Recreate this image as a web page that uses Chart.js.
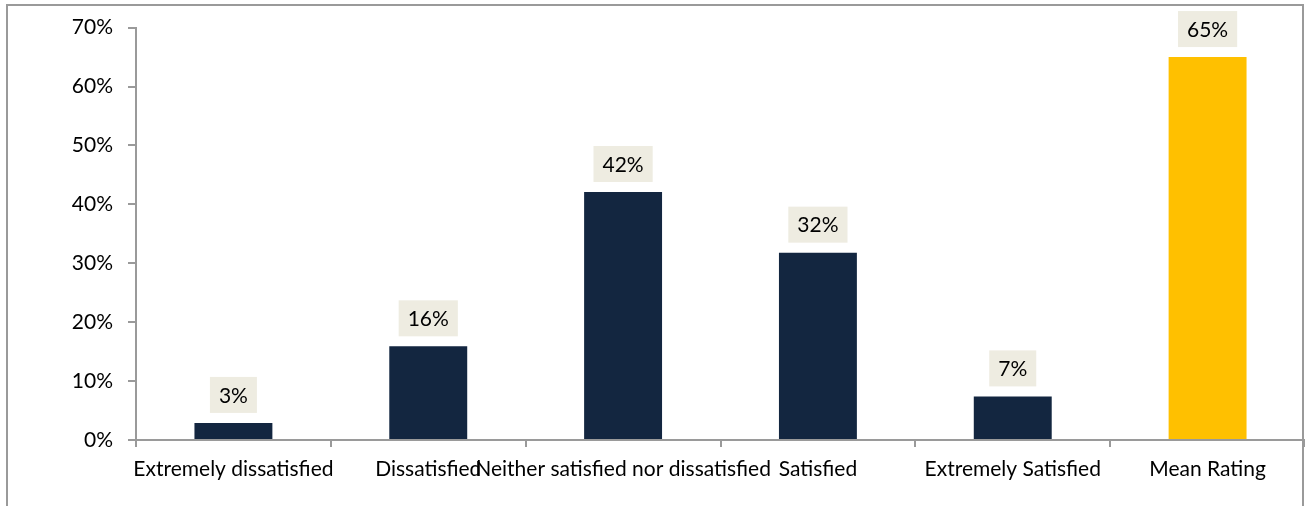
<!DOCTYPE html>
<html>
<head>
<meta charset="utf-8">
<script src="https://cdn.jsdelivr.net/npm/chart.js@4"></script>
<style>
html,body{margin:0;padding:0;background:#fff;}
#wrap{position:absolute;left:0;top:0;width:1305px;height:506px;}
</style>
</head>
<body>
<div id="wrap"><canvas id="c" width="1305" height="506"></canvas></div>
<script>
const categories = ["Extremely dissatisfied","Dissatisfied","Neither satisfied nor dissatisfied","Satisfied","Extremely Satisfied","Mean Rating"];
const values = [2.9, 15.9, 42.1, 31.8, 7.4, 65];
const valueLabels = ["3%","16%","42%","32%","7%","65%"];
const barColors = ["#132640","#132640","#132640","#132640","#132640","#FFC000"];
const yTicks = [0,10,20,30,40,50,60,70];

const FONT = "Lato, 'Noto Sans', sans-serif";
const FSIZE = 21;

const framePlugin = {
  id:'frame',
  beforeDraw(chart){
    const ctx = chart.ctx;
    ctx.save();
    ctx.strokeStyle = '#9a9a9a';
    ctx.lineWidth = 2;
    ctx.beginPath();
    ctx.moveTo(7, 506);
    ctx.lineTo(7, 5);
    ctx.lineTo(1303, 5);
    ctx.lineTo(1303, 506);
    ctx.stroke();
    ctx.restore();
  }
};

const labelPlugin = {
  id:'boxLabels',
  afterDatasetsDraw(chart){
    const ctx = chart.ctx;
    const meta = chart.getDatasetMeta(0);
    ctx.save();
    ctx.font = FSIZE + "px " + FONT;
    ctx.textAlign = 'center';
    ctx.textBaseline = 'middle';
    meta.data.forEach((bar, i) => {
      const txt = valueLabels[i];
      const w = ctx.measureText(txt).width + 18;
      const h = 36;
      const bottom = bar.y - 10;
      ctx.fillStyle = '#EEECE1';
      ctx.fillRect(bar.x - w/2, bottom - h, w, h);
      ctx.fillStyle = '#000';
      ctx.fillText(txt, bar.x, bottom - h/2 + 1);
    });
    ctx.restore();
  }
};

new Chart(document.getElementById('c'), {
  type:'bar',
  data:{
    labels: categories,
    datasets:[{
      data: values,
      backgroundColor: barColors,
      barPercentage: 0.4,
      categoryPercentage: 1.0
    }]
  },
  options:{
    responsive:false,
    animation:false,
    devicePixelRatio:1,
    layout:{padding:{top:26,left:0,right:0,bottom:0}},
    plugins:{legend:{display:false},tooltip:{enabled:false}},
    scales:{
      x:{
        grid:{display:true,drawOnChartArea:false,offset:true,tickLength:7,color:'#9a9a9a',lineWidth:2},
        border:{display:true,color:'#9a9a9a',width:2},
        ticks:{color:'#000',font:{family:FONT,size:FSIZE},autoSkip:false,maxRotation:0,minRotation:0,padding:10},
        afterFit(s){ s.height = 66; }
      },
      y:{
        min:0,max:70,
        afterBuildTicks(s){ s.ticks = yTicks.map(v=>({value:v})); },
        grid:{display:true,drawOnChartArea:false,tickLength:8,color:'#9a9a9a',lineWidth:2},
        border:{display:true,color:'#9a9a9a',width:2},
        ticks:{color:'#000',font:{family:FONT,size:FSIZE},padding:15,callback:v=>v+'%'},
        afterFit(s){ s.width = 136; }
      }
    }
  },
  plugins:[framePlugin,labelPlugin]
});
</script>
</body>
</html>
